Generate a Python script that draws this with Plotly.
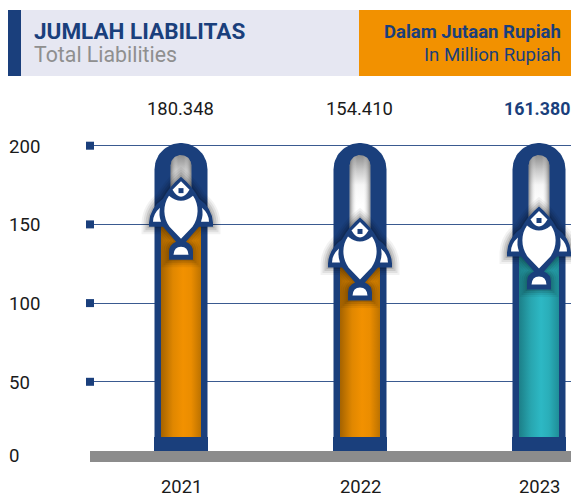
import numpy as np
import plotly.graph_objects as go

# ---- data ----
years = ["2021", "2022", "2023"]
values = [180.348, 154.410, 161.380]
value_labels = ["180.348", "154.410", "161.380"]
y_ticks = [0, 50, 100, 150, 200]
grid_ticks = [50, 100, 150, 200]

# ---- styles ----
NAVY = "#1A3F7C"
GRID = "#3A5A90"
GRAY = "#8C8C8C"
ORANGE = "#F29100"
W, H = 571, 497
M_L, M_T, M_B = 90, 130, 27
PX_X = 179.0                 # pixels per category
PX_Y = 78.7 / 50             # pixels per value unit
ZERO_PX = 460.5
Y_LOW = (ZERO_PX - (H - M_B)) / PX_Y
Y_HIGH = (ZERO_PX - M_T) / PX_Y
X_LOW = -(181 - M_L) / PX_X
X_HIGH = X_LOW + (W - M_L) / PX_X


def vy(py):                  # page pixel row to value
    return (ZERO_PX - py) / PX_Y


def rect(i, half_px, top_v, bottom_v):
    d = half_px / PX_X
    return [i - d, i + d, i + d, i - d, i - d], [top_v, top_v, bottom_v, bottom_v, top_v]


def capsule(i, half_px, top_px, bottom_v):
    t = np.linspace(np.pi, 0, 40)
    xs = i + half_px * np.cos(t) / PX_X
    ys = vy(top_px + half_px) + half_px * np.sin(t) / PX_Y
    return list(xs) + [i + half_px / PX_X, i - half_px / PX_X, xs[0]], list(ys) + [bottom_v, bottom_v, ys[0]]


def fill_trace(xs, ys, color=None, gradient=None):
    kw = dict(x=xs, y=ys, mode="lines", line=dict(width=0), fill="toself",
              hoverinfo="skip", showlegend=False)
    if gradient:
        kw["fillgradient"] = gradient
        kw["fillcolor"] = "rgba(0,0,0,0)"
    else:
        kw["fillcolor"] = color
    return go.Scatter(**kw)


fig = go.Figure()

bar_scales = [
    [[0, "#A56300"], [0.3, "#E08700"], [0.55, ORANGE], [0.75, "#EB8D00"], [1, "#BC7200"]],
    [[0, "#A56300"], [0.3, "#E08700"], [0.55, ORANGE], [0.75, "#EB8D00"], [1, "#BC7200"]],
    [[0, "#1C7F88"], [0.3, "#28A6B0"], [0.55, "#2DB8C4"], [0.75, "#2AAEB9"], [1, "#1F8E98"]],
]

for i, v in enumerate(values):
    # navy tube
    xs, ys = capsule(i, 26.5, 143, vy(451))
    fig.add_trace(fill_trace(xs, ys, NAVY))
    # glass channel
    top_fill = v - 45 / PX_Y
    xs, ys = capsule(i, 10.3, 155, top_fill)
    fig.add_trace(fill_trace(xs, ys, gradient=dict(
        type="vertical", start=vy(205), stop=vy(155),
        colorscale=[[0, "#FFFFFF"], [0.4, "#F6F6F6"], [0.7, "#C8C8C8"], [1, "#8E8E8E"]])))
    fig.add_trace(fill_trace(xs, ys, gradient=dict(
        type="horizontal",
        colorscale=[[0, "rgba(100,100,100,0.7)"], [0.35, "rgba(255,255,255,0)"],
                    [0.65, "rgba(255,255,255,0)"], [1, "rgba(100,100,100,0.7)"]])))
    # liquid column
    xs, ys = rect(i, 20, top_fill, vy(437))
    fig.add_trace(fill_trace(xs, ys, gradient=dict(type="horizontal", colorscale=bar_scales[i])))
    # foot of the tube
    xs, ys = rect(i, 27, vy(437), vy(451))
    fig.add_trace(fill_trace(xs, ys, NAVY))

# baseline band
fig.add_trace(fill_trace([X_LOW, X_HIGH, X_HIGH, X_LOW, X_LOW],
                         [vy(451), vy(451), vy(462), vy(462), vy(451)], GRAY))

# tick squares
fig.add_trace(go.Scatter(x=[X_LOW] * len(grid_ticks), y=grid_ticks, mode="markers",
                         marker=dict(symbol="square", size=8, color=NAVY),
                         cliponaxis=False, hoverinfo="skip", showlegend=False))


# ---- fish drawn in pixels, anchored on each value ----
def P(cmds):
    out = []
    for c in cmds:
        if c == "Z":
            out.append("Z")
            continue
        op, pts = c
        step = {"M": 1, "L": 1, "Q": 2, "C": 3}[op]
        for k in range(0, len(pts), step):
            out.append(op + " ".join(f"{dx},{-dy}" for dx, dy in pts[k:k + step]))
    return " ".join(out)


outer = P([("M", [(0, 0)]), ("Q", [(11, 9), (18, 22)]), ("Q", [(31, 31), (32, 46)]),
           ("L", [(32, 50), (18, 50), (5, 65)]),
           ("Q", [(12, 68), (12, 75)]), ("L", [(12, 83), (-12, 83), (-12, 75)]), ("Q", [(-12, 68), (-5, 65)]),
           ("L", [(-18, 50), (-32, 50), (-32, 46)]), ("Q", [(-31, 31), (-18, 22)]), ("Q", [(-11, 9), (0, 0)]), "Z"])
eye = P([("M", [(0, 4.5)]), ("L", [(8.5, 13)]), ("Q", [(0, 27), (-8.5, 13)]), "Z"])
body = P([("M", [(-12, 19)]), ("Q", [(0, 29), (12, 19)]), ("C", [(18.5, 28), (18, 41), (11.5, 50)]),
          ("L", [(0, 62), (-11.5, 50)]), ("C", [(-18, 41), (-18.5, 28), (-12, 19)]), "Z"])
fin_r = P([("M", [(21, 31)]), ("Q", [(28, 37), (28, 45)]), ("L", [(20, 45)]), ("Q", [(22.5, 38), (21, 31)]), "Z"])
fin_l = P([("M", [(-21, 31)]), ("Q", [(-28, 37), (-28, 45)]), ("L", [(-20, 45)]), ("Q", [(-22.5, 38), (-21, 31)]), "Z"])
tail = P([("M", [(-7.5, 78)]), ("Q", [(-7, 70), (0, 70)]), ("Q", [(7, 70), (7.5, 78)]), "Z"])
pupil = P([("M", [(-2.5, 11.5)]), ("L", [(2.5, 11.5), (2.5, 16.5), (-2.5, 16.5)]), "Z"])

shapes = []
for i, v in enumerate(values):
    base = dict(type="path", xref="x", yref="y", xsizemode="pixel", ysizemode="pixel",
                xanchor=i, yanchor=v, layer="above")
    for lw, alpha in [(15, 0.05), (11, 0.07), (7, 0.10), (3, 0.12)]:
        shapes.append(dict(base, path=outer, fillcolor="rgba(0,0,0,0)",
                           line=dict(color=f"rgba(0,0,0,{alpha})", width=lw)))
    shapes.append(dict(base, path=outer, fillcolor=NAVY, line=dict(width=0)))
    for p in (eye, body, fin_r, fin_l, tail):
        shapes.append(dict(base, path=p, fillcolor="white", line=dict(width=0)))
    shapes.append(dict(base, path=pupil, fillcolor=NAVY, line=dict(width=0)))

# header panels
for x0, x1, c in [(8, 21, NAVY), (21, 359, "#E6E7F2"), (359, 571, ORANGE)]:
    shapes.append(dict(type="rect", xref="paper", yref="paper",
                       x0=(x0 - M_L) / (W - M_L), x1=(x1 - M_L) / (W - M_L),
                       y0=(H - M_B - 76) / (H - M_T - M_B), y1=(H - M_B - 10) / (H - M_T - M_B),
                       fillcolor=c, line=dict(width=0), layer="above"))


def px_x(x):
    return (x - M_L) / (W - M_L)


def px_y(y):
    return (H - M_B - y) / (H - M_T - M_B)


def text(s, x, y, size, color="#1A1A1A", anchor="left", bold=False):
    return dict(text=f"<b>{s}</b>" if bold else s, x=px_x(x), y=px_y(y), xref="paper", yref="paper",
                xanchor=anchor, yanchor="middle", showarrow=False, xshift=0,
                font=dict(family="Roboto", size=size, color=color))


ann = [
    text("JUMLAH LIABILITAS", 32, 31, 22.5, NAVY, bold=True),
    text("Total Liabilities", 32, 55, 21.3, "#8F8F8F"),
    text("Dalam Jutaan Rupiah", 563, 32, 18.5, NAVY, "right", True),
    text("In Million Rupiah", 563, 55, 18.6, NAVY, "right"),
]
for i, s in enumerate(value_labels):
    px = M_L + (i - X_LOW) * PX_X
    if i == 2:
        # reference runs this label to the page edge; keep it fully on the page
        ann.append(text(s, 537, 108, 17.8, NAVY, "center", True))
    else:
        ann.append(text(s, px - 1, 108, 18.4, "#1A1A1A", "center"))
    ann.append(text(years[i], px, 486, 18.4, "#1A1A1A", "center"))
for t in y_ticks:
    py = ZERO_PX - t * PX_Y + 0.8 if t else 456
    ann.append(text(str(t), 7, py, 18.6))

fig.update_layout(
    width=W, height=H, autosize=False,
    margin=dict(l=M_L, r=0, t=M_T, b=M_B, pad=0),
    paper_bgcolor="white", plot_bgcolor="white",
    showlegend=False, shapes=shapes, annotations=ann,
    xaxis=dict(range=[X_LOW, X_HIGH], showgrid=False, zeroline=False, showticklabels=False,
               ticks="", showline=False, fixedrange=True),
    yaxis=dict(range=[Y_LOW, Y_HIGH], tickvals=grid_ticks, showgrid=True, gridcolor=GRID, gridwidth=1,
               zeroline=False, showticklabels=False, ticks="", showline=False, fixedrange=True),
)
fig.write_html("out.html", config=dict(displayModeBar=False),
               post_script="document.body.style.margin='0';document.documentElement.style.overflow='hidden';")
